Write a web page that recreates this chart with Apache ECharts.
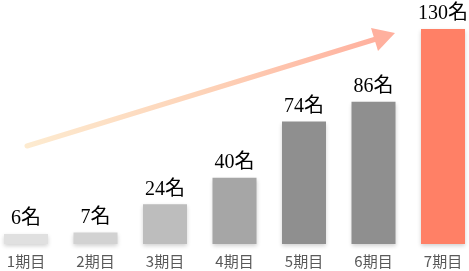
<!DOCTYPE html>
<html>
<head>
<meta charset="utf-8">
<script src="https://cdn.jsdelivr.net/npm/echarts@6/dist/echarts.min.js"></script>
<style>html,body{margin:0;padding:0;background:#fff}#c{width:469px;height:271px}</style>
</head>
<body>
<div id="c"></div>
<script>
var categories = ['1期目','2期目','3期目','4期目','5期目','6期目','7期目'];
var values = [6, 7, 24, 40, 74, 86, 130];
var barColors = ['#e0e0e0','#d2d2d2','#bdbdbd','#a6a6a6','#8f8f8f','#8f8f8f','#ff8066'];
var unit = '名';

var chart = echarts.init(document.getElementById('c'), null, {renderer:'canvas'});
var data = values.map(function(v,i){
  return {value:v, itemStyle:{color:barColors[i]}};
});
chart.setOption({
  animation:false,
  backgroundColor:'#fff',
  grid:{left:26,right:26,top:29,bottom:27,containLabel:false},
  xAxis:{
    type:'category', data:categories, boundaryGap:false,
    axisLine:{show:false}, axisTick:{show:false}, splitLine:{show:false},
    axisLabel:{color:'#595959', fontSize:15, margin:10, fontFamily:'"Noto Sans CJK JP", sans-serif'}
  },
  yAxis:{type:'value', min:0, max:130, show:false, splitLine:{show:false}},
  series:[{
    type:'bar', data:data, barWidth:44,
    itemStyle:{shadowColor:'rgba(0,0,0,0.18)', shadowBlur:4, shadowOffsetY:2},
    label:{show:true, position:'top', distance:5, color:'#000', fontSize:20,
      fontFamily:'"Liberation Serif", "Noto Sans CJK JP", serif',
      formatter:function(p){return p.value + unit;}}
  }],
  graphic:[
    {type:'line', shape:{x1:27,y1:146,x2:376,y2:39},
     style:{lineWidth:5, lineCap:'round',
       stroke:new echarts.graphic.LinearGradient(0,0,1,0,[
         {offset:0,color:'#fdebd0'},{offset:0.5,color:'#fdd3b8'},{offset:1,color:'#ffb09e'}])}},
    {type:'polygon', shape:{points:[[395,33],[371,28],[378,51]]}, style:{fill:'#ffb09e'}}
  ]
});
</script>
</body>
</html>
